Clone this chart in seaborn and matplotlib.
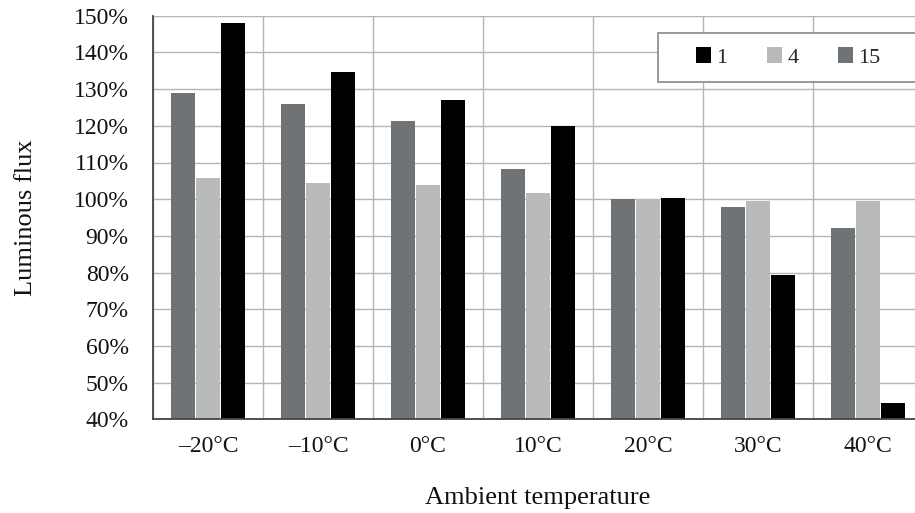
import pandas as pd
import matplotlib
matplotlib.use("Agg")
import matplotlib.pyplot as plt
import matplotlib.ticker as mticker
from matplotlib.patches import Patch, Rectangle
import seaborn as sns

# data (luminous flux in %, relative to 20°C)
temperatures = ['–20°C', '–10°C', '0°C', '10°C', '20°C', '30°C', '40°C']
flux_15 = [129.0, 126.0, 121.2, 108.2, 100.0, 97.8, 92.2]
flux_4 = [105.7, 104.3, 103.8, 101.8, 100.0, 99.6, 99.4]
flux_1 = [148.0, 134.7, 127.0, 120.0, 100.2, 79.3, 44.6]
series_names = ['15', '4', '1']
legend_order = ['1', '4', '15']
y_ticks = list(range(40, 151, 10))

colors = {'15': '#707375', '4': '#b9bbbb', '1': '#000000'}

df = pd.DataFrame({
    'Temperature': temperatures * 3,
    'Series': ['15'] * 7 + ['4'] * 7 + ['1'] * 7,
    'Flux': flux_15 + flux_4 + flux_1,
})

sns.set_style('white')
plt.rcParams['font.family'] = ['Liberation Serif', 'DejaVu Serif']

W, H = 915, 513
x0, x1, ytop, ybot = 153, 923, 15.7, 419.4
fig = plt.figure(figsize=(W / 100, H / 100), dpi=100)
ax = fig.add_axes([x0 / W, 1 - ybot / H, (x1 - x0) / W, (ybot - ytop) / H])

def ax_x(px):
    return (px - x0) / (x1 - x0)

def ax_y(py):
    return (ybot - py) / (ybot - ytop)

sns.barplot(data=df, x='Temperature', y='Flux', hue='Series',
            order=temperatures, hue_order=series_names, palette=colors,
            width=0.68, gap=0.05, saturation=1, errorbar=None,
            linewidth=0, ax=ax, legend=False)

ax.set_ylim(40, 150)
ax.set_xlim(-0.5, len(temperatures) - 0.5)
ax.set_yticks(y_ticks)
ax.yaxis.set_major_formatter(mticker.FuncFormatter(lambda v, p: f'{v:.0f}%'))

# group separators as minor ticks
ax.set_xticks([i - 0.5 for i in range(len(temperatures) + 1)], minor=True)
ax.tick_params(axis='x', which='major', length=0, labelsize=17, pad=12, colors='#111111')
ax.tick_params(axis='x', which='minor', length=6, width=1, color='#888888', direction='out')
ax.tick_params(axis='y', which='major', length=6.5, width=1, color='#888888',
               direction='out', labelsize=17, colors='#111111', pad=11)

ax.grid(False)
ax.grid(True, axis='y', which='major', color='#b5b5b5', linewidth=1)
ax.grid(True, axis='x', which='minor', color='#b5b5b5', linewidth=1)
ax.set_axisbelow(True)

for side in ['top', 'right']:
    ax.spines[side].set_visible(False)
for side in ['left', 'bottom']:
    ax.spines[side].set_color('#444444')
    ax.spines[side].set_linewidth(1.3)

ax.set_xlabel('Ambient temperature', fontsize=19, color='#111111')
ax.set_ylabel('Luminous flux', fontsize=19, color='#111111')
ax.xaxis.set_label_coords(ax_x(538), ax_y(487))
ax.yaxis.set_label_coords(ax_x(37), 0.5)

# legend box runs past the right edge of the picture
frame = Rectangle((ax_x(658), ax_y(82)), ax_x(930) - ax_x(658), ax_y(33) - ax_y(82),
                  transform=ax.transAxes, facecolor='white', edgecolor='#888888',
                  linewidth=1.2, zorder=4, clip_on=False)
ax.add_patch(frame)

handles = [Patch(facecolor=colors[s], edgecolor='none', label=s) for s in legend_order]
leg = ax.legend(handles=handles, ncol=3, loc='center left',
                bbox_to_anchor=(ax_x(696), ax_y(57.5)),
                fontsize=16, frameon=False, handlelength=0.68, handleheight=0.68,
                handletextpad=0.22, columnspacing=1.8, borderpad=0,
                borderaxespad=0)
leg.set_zorder(5)

plt.savefig('out.png', dpi=100)
plt.close()
